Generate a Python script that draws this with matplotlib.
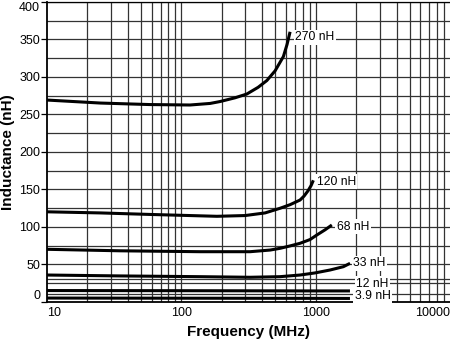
import matplotlib
matplotlib.use('Agg')
import matplotlib.pyplot as plt
from matplotlib.ticker import FixedLocator, NullFormatter

plt.rcParams['font.family'] = ['Liberation Sans', 'DejaVu Sans']

# curves (frequency in MHz, inductance in nH)
f_270 = [10, 25, 58, 116, 164, 194, 251, 307, 373, 433, 499, 575, 612, 645]
l_270 = [269, 265, 263, 262.4, 264.5, 267, 272, 277, 286, 295, 308, 327, 343, 360]

f_120 = [10, 25, 58, 116, 184, 298, 420, 543, 645, 765, 820, 877, 925, 961]
l_120 = [120, 118.5, 116.5, 115, 114, 115, 118.5, 124.7, 129.5, 135.7, 141, 148, 155, 162]

f_68 = [10, 35, 138, 325, 458, 543, 645, 765, 908, 1019, 1175, 1320]
l_68 = [70, 68, 66.8, 66.8, 69, 71.3, 74.5, 78, 83, 89, 96, 102.4]

f_33 = [10, 35, 138, 325, 543, 765, 989, 1280, 1607, 1803]
l_33 = [35.7, 34.5, 33.5, 32.7, 33.5, 35.7, 38.5, 42.4, 46.8, 51.3]

f_12 = [10, 100, 1000, 1800]
l_12 = [15, 14.8, 14.5, 14.5]

f_39 = [10, 100, 1000, 1800]
l_39 = [5, 4.8, 4.6, 4.5]

curves = [(f_270, l_270), (f_120, l_120), (f_68, l_68),
          (f_33, l_33), (f_12, l_12), (f_39, l_39)]

labels = ['270 nH', '120 nH', '68 nH', '33 nH', '12 nH', '3.9 nH']
label_f = [703, 1019, 1435, 1897, 2000, 1950]
label_l = [353, 160, 100, 51.3, 24, 8]

y_ticks = [0, 50, 100, 150, 200, 250, 300, 350, 400]
x_ticks = [10, 100, 1000, 10000]
x_ticklabels = ['10', '100', '1000', '10000']

fig = plt.figure(figsize=(4.5, 3.44), dpi=100)
ax = fig.add_axes([47 / 450, 42.2 / 344, 403 / 450, 300 / 344])

ax.set_xscale('log')
ax.set_xlim(10, 10000)
ax.set_ylim(0, 400)

# grid
minor_x = [m * 10 ** d for d in range(1, 4) for m in range(2, 10)]
for xv in minor_x + [100, 1000]:
    ax.axvline(xv, color='#333333', lw=0.9, zorder=1)
for yv in list(range(25, 401, 25)) + [10, 30]:
    ax.axhline(yv, color='#333333', lw=0.9, zorder=1)

for (fx, ly) in curves:
    ax.plot(fx, ly, color='black', lw=2.2, solid_capstyle='butt',
            solid_joinstyle='round', zorder=3)

for txt, fx, ly in zip(labels, label_f, label_l):
    ax.text(fx, ly, txt, ha='left', va='center', fontsize=8.7, zorder=4,
            bbox=dict(boxstyle='square,pad=0.12', facecolor='white', edgecolor='none'))

ax.xaxis.set_major_locator(FixedLocator(x_ticks))
ax.xaxis.set_minor_locator(FixedLocator(minor_x))
ax.xaxis.set_minor_formatter(NullFormatter())
ax.set_xticklabels(x_ticklabels)
ax.tick_params(axis='x', which='both', length=0, pad=4, labelsize=9)
ax.set_yticks(y_ticks)
ax.tick_params(axis='y', length=4, width=0.9, pad=1, labelsize=9)

xl = ax.get_xticklabels()
xl[0].set_ha('left')
xl[-1].set_ha('right')
yl = ax.get_yticklabels()
yl[0].set_va('bottom')
yl[-1].set_va('top')

for side in ['left', 'bottom']:
    ax.spines[side].set_linewidth(1.3)
ax.spines['top'].set_linewidth(0.9)
ax.spines['right'].set_visible(False)

ax.set_xlabel('Frequency (MHz)', fontsize=11, fontweight='bold', labelpad=4)
ax.set_ylabel('Inductance (nH)', fontsize=11, fontweight='bold', labelpad=3)

fig.savefig('out.png', dpi=100)
